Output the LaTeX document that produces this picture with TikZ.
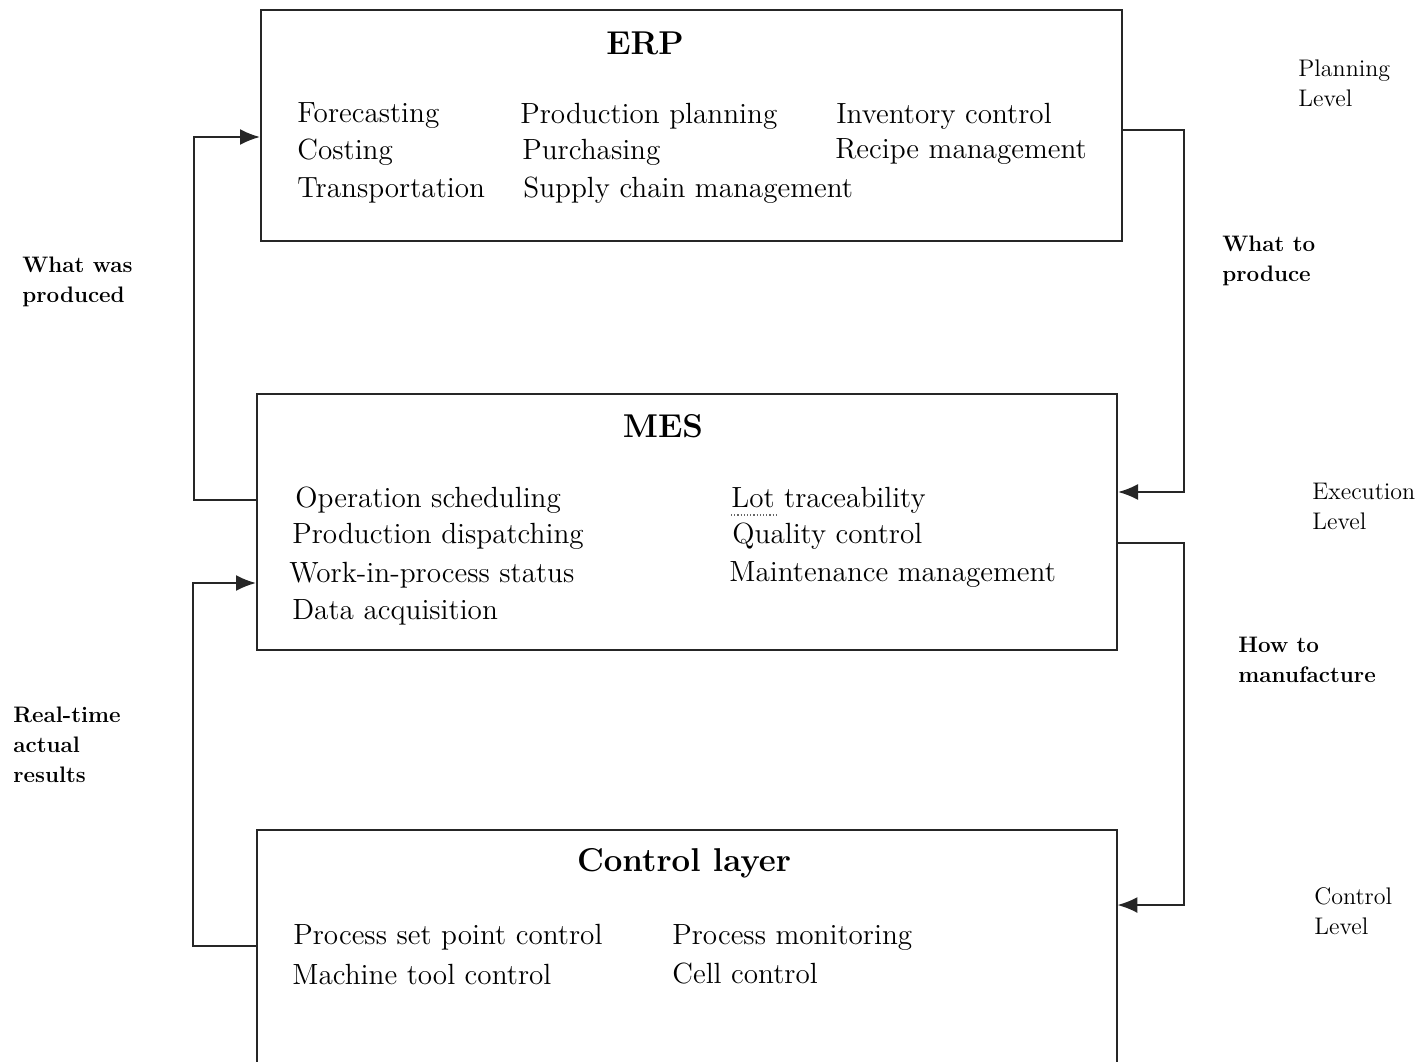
\documentclass[tikz,border=0pt]{standalone}
\usetikzlibrary{arrows.meta}
\begin{document}
\begin{tikzpicture}[x=0.5pt,y=-0.5pt,
  box/.style={rectangle,inner sep=0pt,line width=1pt,draw=black!85},
  openbox/.style={rectangle,inner sep=0pt},
  item/.style={anchor=west,inner sep=0pt,font=\fontsize{14.6}{16}\selectfont},
  ttl/.style={inner sep=0pt,font=\fontsize{16.5}{18}\selectfont\bfseries},
  side/.style={anchor=north west,inner sep=0pt,align=left,font=\fontsize{11.2}{15}\selectfont\bfseries},
  lvl/.style={anchor=north west,inner sep=0pt,align=left,font=\fontsize{12}{15}\selectfont},
  arr/.style={line width=1pt,draw=black!85,-{Latex[length=10pt,width=8pt]}}
]
\useasboundingbox (0,0) rectangle (1427,1061);
% boxes
\node[box,minimum width=430.5pt,minimum height=115.5pt] (erp) at (691.5,125.5) {};
\node[box,minimum width=430pt,minimum height=128pt] (mes) at (687,522) {};
\node[openbox,minimum width=430pt,minimum height=122.5pt] (ctl) at (687,952.5) {};
\draw[line width=1pt,draw=black!85] (ctl.south west) -- (ctl.north west) -- (ctl.north east) -- (ctl.south east);
% titles
\node[ttl] (erpt) at (645,43) {ERP};
\node[ttl] (mest) at (663,426) {MES};
\node[ttl] (ctlt) at (684,863) {Control layer};
% ERP items
\node[item] (e1) at (297,116) {Forecasting};
\node[item] (e2) at (297,152) {Costing};
\node[item] (e3) at (297,190) {Transportation};
\node[item] (e4) at (520,116) {Production planning};
\node[item] (e5) at (522,152) {Purchasing};
\node[item] (e6) at (523,190) {Supply chain management};
\node[item] (e7) at (836,116) {Inventory control};
\node[item] (e8) at (835,152) {Recipe management};
% MES items
\node[item] (m1) at (295,500) {Operation scheduling};
\node[item] (m2) at (292,536) {Production dispatching};
\node[item] (m3) at (289,575) {Work-in-process status};
\node[item] (m4) at (292,612) {Data acquisition};
\node[item] (m5) at (731,500) {Lot traceability};
\node[item] (m6) at (732,536) {Quality control};
\node[item] (m7) at (729,575) {Maintenance management};
\draw[densely dotted,line width=0.6pt,black!60] (731,515) -- (777,515);
% Control items
\node[item] (c1) at (293,937) {Process set point control};
\node[item] (c2) at (292,974) {Machine tool control};
\node[item] (c3) at (672,937) {Process monitoring};
\node[item] (c4) at (672,974) {Cell control};
% side labels
\node[side] (l1) at (22,257) {What was\\produced};
\node[side] (l2) at (1222,236) {What to\\produce};
\node[side] (l3) at (1238,637) {How to\\manufacture};
\node[side] (l4) at (13,707) {Real-time\\actual\\results};
\node[lvl] (v1) at (1298,59) {Planning\\Level};
\node[lvl] (v2) at (1312,483) {Execution\\Level};
\node[lvl] (v3) at (1314,887) {Control\\Level};
% connectors
\draw[arr] (mes.west |- 0,500) -- (194,500) |- (erp.west |- 0,137);
\draw[arr] (ctl.west |- 0,946) -- (193,946) |- (mes.west |- 0,583);
\draw[arr] (erp.east |- 0,130) -- (1184,130) |- (mes.east |- 0,492);
\draw[arr] (mes.east |- 0,543) -- (1184,543) |- (ctl.east |- 0,905);
\end{tikzpicture}
\end{document}
